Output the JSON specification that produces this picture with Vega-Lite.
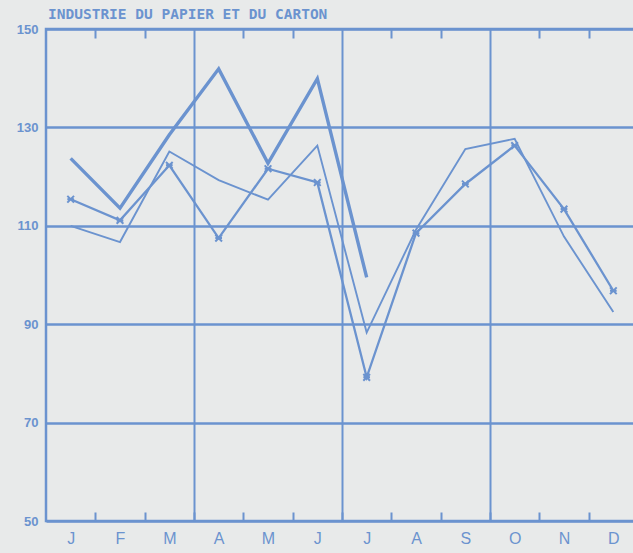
{
  "$schema": "https://vega.github.io/schema/vega-lite/v6.json",
  "autosize": "none",
  "width": 592,
  "height": 492,
  "padding": {"left": 46, "top": 29, "right": 0, "bottom": 32},
  "background": "#e8eaea",
  "view": {"stroke": "#6b93cf", "strokeWidth": 2.5},
  "title": {
    "text": "INDUSTRIE DU PAPIER ET DU CARTON",
    "anchor": "start",
    "frame": "group",
    "font": "DejaVu Sans Mono",
    "fontWeight": "bold",
    "fontSize": 14.5,
    "color": "#6b93cf",
    "offset": 1,
    "dx": 2
  },
  "data": {
    "values": [
      {"series": "A", "month": 1, "value": 123.7},
      {"series": "A", "month": 2, "value": 113.6},
      {"series": "A", "month": 3, "value": 128.5},
      {"series": "A", "month": 4, "value": 141.9},
      {"series": "A", "month": 5, "value": 122.7},
      {"series": "A", "month": 6, "value": 139.9},
      {"series": "A", "month": 7, "value": 99.5},
      {"series": "B", "month": 1, "value": 115.4},
      {"series": "B", "month": 2, "value": 111.1},
      {"series": "B", "month": 3, "value": 122.3},
      {"series": "B", "month": 4, "value": 107.5},
      {"series": "B", "month": 5, "value": 121.6},
      {"series": "B", "month": 6, "value": 118.8},
      {"series": "B", "month": 7, "value": 79.2},
      {"series": "B", "month": 8, "value": 108.5},
      {"series": "B", "month": 9, "value": 118.5},
      {"series": "B", "month": 10, "value": 126.3},
      {"series": "B", "month": 11, "value": 113.4},
      {"series": "B", "month": 12, "value": 96.8},
      {"series": "C", "month": 1, "value": 110.0},
      {"series": "C", "month": 2, "value": 106.7},
      {"series": "C", "month": 3, "value": 125.1},
      {"series": "C", "month": 4, "value": 119.3},
      {"series": "C", "month": 5, "value": 115.3},
      {"series": "C", "month": 6, "value": 126.3},
      {"series": "C", "month": 7, "value": 88.3},
      {"series": "C", "month": 8, "value": 109.2},
      {"series": "C", "month": 9, "value": 125.6},
      {"series": "C", "month": 10, "value": 127.7},
      {"series": "C", "month": 11, "value": 107.8},
      {"series": "C", "month": 12, "value": 92.5}
    ]
  },
  "resolve": {"axis": {"x": "independent"}, "scale": {"x": "shared"}},
  "layer": [
    {
      "transform": [{"filter": "datum.series != 'B'"}],
      "mark": {"type": "line", "color": "#6b93cf", "clip": true},
      "encoding": {
        "x": {
          "field": "month", "type": "quantitative",
          "scale": {"domain": [0.5, 12.5], "nice": false, "zero": false},
          "axis": {
            "orient": "bottom",
            "values": [1, 2, 3, 4, 5, 6, 7, 8, 9, 10, 11, 12],
            "labelExpr": "['J','F','M','A','M','J','J','A','S','O','N','D'][datum.value - 1]",
            "title": null, "grid": false, "ticks": false, "domain": false,
            "labelFont": "Liberation Sans", "labelFontSize": 16, "labelColor": "#6b93cf",
            "labelPadding": 9, "labelFlush": false
          }
        },
        "y": {
          "field": "value", "type": "quantitative",
          "scale": {"domain": [50, 150], "nice": false, "zero": false},
          "axis": {
            "values": [50, 70, 90, 110, 130, 150],
            "title": null, "grid": true, "gridColor": "#6b93cf", "gridWidth": 2.5, "gridOpacity": 1,
            "ticks": false, "domain": false,
            "labelFont": "Liberation Sans", "labelFontWeight": "bold", "labelFontSize": 13,
            "labelColor": "#6b93cf", "labelPadding": 8, "labelFlush": false
          }
        },
        "detail": {"field": "series"},
        "strokeWidth": {
          "field": "series", "type": "nominal",
          "scale": {"domain": ["A", "C"], "range": [3.4, 1.9]},
          "legend": null
        }
      }
    },
    {
      "transform": [{"filter": "datum.series == 'B'"}],
      "mark": {"type": "line", "color": "#6b93cf", "strokeWidth": 2.3, "clip": true},
      "encoding": {
        "x": {
          "field": "month", "type": "quantitative",
          "axis": {
            "orient": "top",
            "values": [1.5, 2.5, 4.5, 5.5, 7.5, 8.5, 10.5, 11.5],
            "title": null, "labels": false, "grid": false, "domain": false,
            "ticks": true, "tickSize": -9, "tickColor": "#6b93cf", "tickWidth": 2
          }
        },
        "y": {"field": "value", "type": "quantitative"}
      }
    },
    {
      "transform": [{"filter": "datum.series == 'B'"}],
      "mark": {
        "type": "point",
        "shape": "M-1,-1L1,1M-1,1L1,-1M-1,0L1,0",
        "filled": false,
        "color": "#6b93cf",
        "strokeWidth": 2,
        "size": 45,
        "opacity": 1
      },
      "encoding": {
        "x": {
          "field": "month", "type": "quantitative",
          "axis": {
            "orient": "bottom",
            "values": [1.5, 2.5, 3.5, 4.5, 5.5, 6.5, 7.5, 8.5, 9.5, 10.5, 11.5],
            "title": null, "labels": false, "domain": false,
            "grid": true, "gridColor": "#6b93cf", "gridWidth": 2,
            "gridOpacity": {"expr": "datum.value % 3 == 0.5 ? 1 : 0"},
            "ticks": true, "tickSize": -9, "tickColor": "#6b93cf", "tickWidth": 2
          }
        },
        "y": {"field": "value", "type": "quantitative"}
      }
    }
  ]
}
